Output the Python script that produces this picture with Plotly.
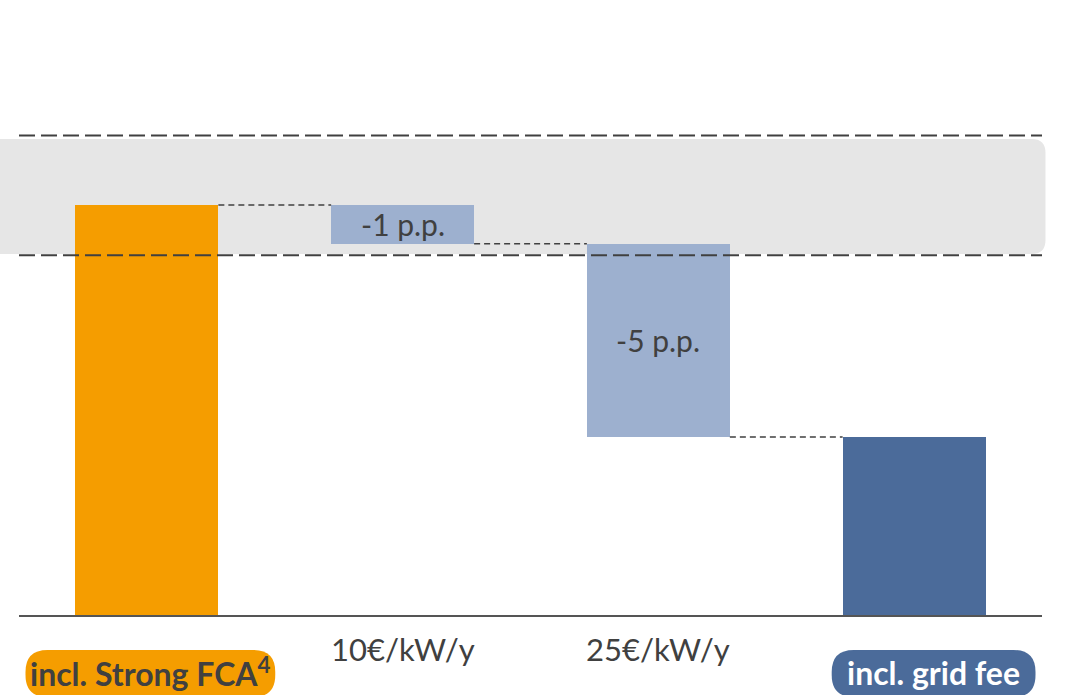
import plotly.graph_objects as go

# Waterfall data (percentage points)
categories = ["incl. Strong FCA", "10€/kW/y", "25€/kW/y", "incl. grid fee"]
start_value = 10.6
deltas = [-1, -5]
delta_labels = ["-1 p.p.", "-5 p.p."]
band_upper = 12.4
band_lower = 9.3

ORANGE = "#f59d00"
LIGHT_BLUE = "#9db0cf"
DARK_BLUE = "#4b6b9a"
TEXT = "#404040"
FONT = "Lato"

W, H = 1066, 695
ML, MR, MT, MB = 18.5, 23.5, 0, 80
PW, PH = W - ML - MR, H - MT - MB
Y_MAX = 15.9


def px_x(px):
    return (px - ML) / PW


def px_y(py):
    return (H - MB - py) / PH


def rounded_rect(x0, y0, x1, y1, r):
    """Rounded rectangle path in paper coordinates from pixel corners."""
    def P(x, y):
        return f"{px_x(x):.5f},{px_y(y):.5f}"
    return (
        f"M {P(x0 + r, y0)} L {P(x1 - r, y0)} Q {P(x1, y0)} {P(x1, y0 + r)} "
        f"L {P(x1, y1 - r)} Q {P(x1, y1)} {P(x1 - r, y1)} "
        f"L {P(x0 + r, y1)} Q {P(x0, y1)} {P(x0, y1 - r)} "
        f"L {P(x0, y0 + r)} Q {P(x0, y0)} {P(x0 + r, y0)} Z"
    )


# Running levels of the waterfall
levels = [start_value]
for d in deltas:
    levels.append(levels[-1] + d)
end_value = levels[-1]

bases = [0, levels[1], levels[2], 0]
heights = [start_value, -deltas[0], -deltas[1], end_value]
colors = [ORANGE, LIGHT_BLUE, LIGHT_BLUE, DARK_BLUE]

fig = go.Figure()
fig.add_trace(go.Bar(
    x=categories, y=heights, base=bases,
    marker=dict(color=colors, line=dict(width=0)),
    width=0.559, hoverinfo="skip", showlegend=False,
))

shapes = []
# Grey target band behind the bars
shapes.append(dict(
    type="path", xref="paper", yref="paper", layer="below",
    path=rounded_rect(-30, 139, 1046, 254, 14),
    fillcolor="#e6e6e6", line=dict(width=0),
))
# Band boundaries
for v in (band_upper, band_lower):
    shapes.append(dict(
        type="line", xref="paper", yref="y", x0=0, x1=1, y0=v, y1=v,
        line=dict(color=TEXT, width=2, dash="16px,6px"), layer="above",
    ))
# Connectors between consecutive bars
half = 0.559 / 2
for i in range(3):
    shapes.append(dict(
        type="line", xref="x", yref="y",
        x0=i + half, x1=i + 1 - half, y0=levels[i], y1=levels[i],
        line=dict(color=TEXT, width=1.5, dash="6px,4px"), layer="above",
    ))
# Pill backgrounds for the first and last categories
PILLS = [(25, 275, ORANGE), (832, 1036, DARK_BLUE)]
for x0, x1, col in PILLS:
    shapes.append(dict(
        type="path", xref="paper", yref="paper",
        path=rounded_rect(x0, 650, x1, 697, 22),
        fillcolor=col, line=dict(width=0),
    ))

annotations = []
for i, (d, lab) in enumerate(zip(deltas, delta_labels)):
    annotations.append(dict(
        x=i + 1, y=levels[i] + d / 2, xref="x", yref="y",
        text=lab, showarrow=False,
        font=dict(family=FONT, size=30, color=TEXT),
    ))
# Category labels inside the pills
annotations.append(dict(
    x=px_x((PILLS[0][0] + PILLS[0][1]) / 2), y=px_y(672),
    xref="paper", yref="paper", showarrow=False,
    xanchor="center", yanchor="middle",
    text="<b>incl. Strong FCA<sup>4</sup></b>",
    font=dict(family=FONT, size=32, color=TEXT),
))
annotations.append(dict(
    x=px_x((PILLS[1][0] + PILLS[1][1]) / 2), y=px_y(672),
    xref="paper", yref="paper", showarrow=False,
    xanchor="center", yanchor="middle",
    text="<b>incl. grid fee</b>",
    font=dict(family=FONT, size=32, color="white"),
))
for i in (1, 2):
    annotations.append(dict(
        x=i, y=px_y(649), xref="x", yref="paper", showarrow=False,
        yanchor="middle",
        text=categories[i],
        font=dict(family=FONT, size=31, color=TEXT),
    ))

fig.update_layout(
    width=W, height=H, autosize=False,
    margin=dict(l=ML, r=MR, t=MT, b=MB, pad=0),
    paper_bgcolor="white", plot_bgcolor="rgba(0,0,0,0)",
    shapes=shapes, annotations=annotations,
    bargap=0,
    xaxis=dict(showticklabels=False, showgrid=False, zeroline=False,
               showline=True, linecolor="#555555", linewidth=2,
               ticks="", range=[-0.5, 3.5]),
    yaxis=dict(range=[0, Y_MAX], visible=False),
)

fig.write_html("out.html")
